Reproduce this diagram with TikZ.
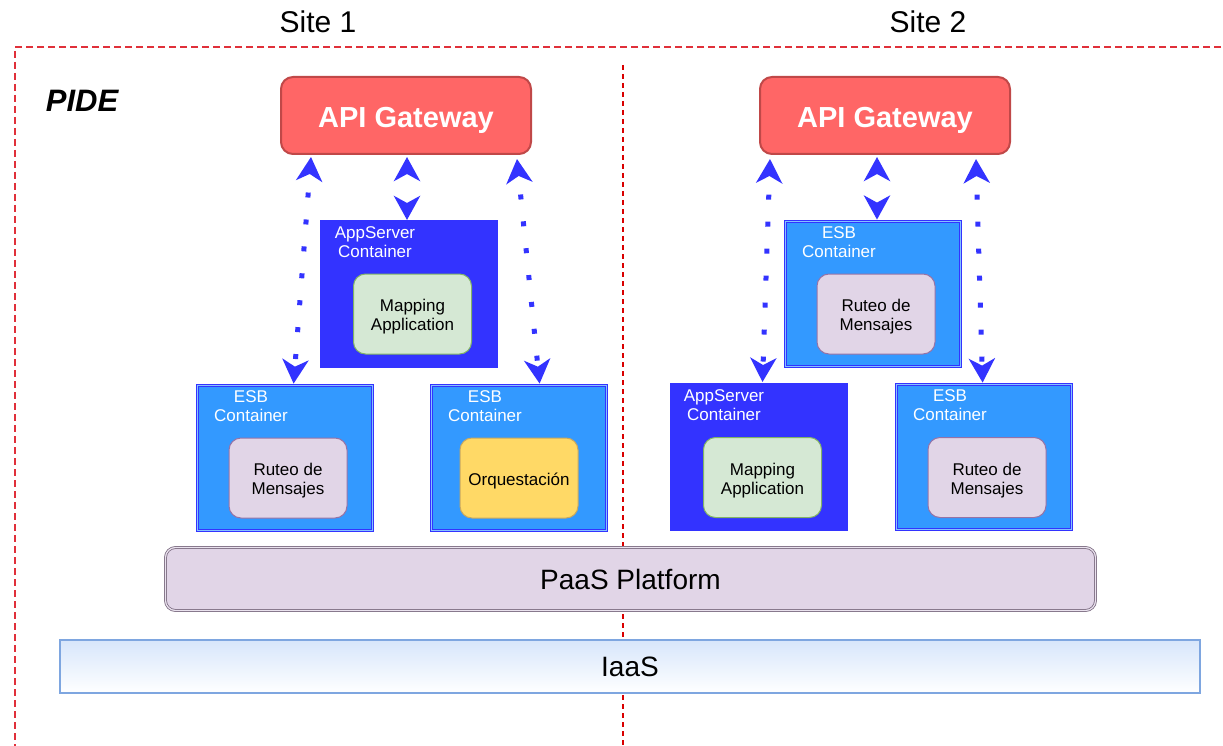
\documentclass[tikz,border=0pt]{standalone}
\usepackage{fontspec}
\setmainfont{Liberation Sans}
\usetikzlibrary{arrows.meta,calc}
\definecolor{gwfill}{HTML}{FF6666}
\definecolor{gwline}{HTML}{C04848}
\definecolor{appfill}{HTML}{3333FF}
\definecolor{esbfill}{HTML}{3399FF}
\definecolor{mapfill}{HTML}{D5E8D4}
\definecolor{mapline}{HTML}{82B366}
\definecolor{rutfill}{HTML}{E1D5E7}
\definecolor{rutline}{HTML}{9673A6}
\definecolor{orqfill}{HTML}{FFD966}
\definecolor{orqline}{HTML}{C8A860}
\definecolor{paasline}{HTML}{7A6A80}
\definecolor{iaasline}{HTML}{7EA6E0}
\definecolor{iaastop}{HTML}{D7E6FB}
\definecolor{redline}{HTML}{E0303A}
\newcommand{\lowr}{\rule{0pt}{18pt}}
\begin{document}
\begin{tikzpicture}[x=1pt,y=-1pt,
  every node/.style={inner sep=0pt, outer sep=0pt},
  gw/.style={draw=gwline, line width=2pt, fill=gwfill, rounded corners=12pt,
    minimum width=250pt, minimum height=77pt, text=white, text height=24pt, text depth=0pt,
    font=\bfseries\fontsize{29}{34}\selectfont},
  appbox/.style={fill=appfill, minimum width=178pt, minimum height=148pt},
  esbbox/.style={fill=esbfill, draw=appfill, line width=1pt, double=esbfill!60!white,
    double distance=1.2pt, minimum width=174.8pt, minimum height=144.8pt},
  inner/.style={rounded corners=12pt, line width=1pt, minimum width=118pt,
    minimum height=80pt, align=center, font=\fontsize{17}{19}\selectfont},
  mapbox/.style={inner, fill=mapfill, draw=mapline},
  rutbox/.style={inner, fill=rutfill, draw=rutline},
  orqbox/.style={inner, fill=orqfill, draw=orqline},
  clabel/.style={text=white, align=center, font=\fontsize{17}{19}\selectfont},
  sitelabel/.style={font=\fontsize{30}{34}\selectfont},
  conn/.style={draw=appfill, line width=5pt, dash pattern=on 5pt off 22pt, dash phase=7pt,
    {Stealth[length=24pt,width=26pt,inset=7pt]}-{Stealth[length=24pt,width=26pt,inset=7pt]}},
  shortconn/.style={conn, dash pattern=on 0pt off 200pt, dash phase=0pt},
  border/.style={draw=redline, line width=1.4pt, dash pattern=on 7pt off 4pt},
  midline/.style={draw=red!85!black, line width=1.3pt, dash pattern=on 5pt off 4pt}
]
\useasboundingbox (0,0) rectangle (1223,746);
\fill[white] (0,0) rectangle (1223,746);

% frame
\coordinate (tl) at (15,47);
\coordinate (tr) at (1221,47);
\coordinate (bl) at (15,746);
\coordinate (mt) at (623,65);
\coordinate (mb) at (623,746);
\draw[border] (tr) -- (tl) -- (bl);
\draw[midline] (mt) -- (mb);

\node[sitelabel] (site1) at (318,22) {Site 1};
\node[sitelabel] (site2) at (928,22) {Site 2};
\node[font=\bfseries\itshape\fontsize{31}{34}\selectfont] (pide) at (82,101) {PIDE};

% Site 1
\node[gw] (gw1) at (406,115.5) {API Gateway};
\node[appbox] (app1) at (409,294) {};
\node[clabel] (app1l) at (375,242) {AppServer\\Container};
\node[mapbox] (map1) at (412.5,314) {\lowr Mapping\\Application};

\node[esbbox] (esb1) at (285,458) {};
\node[clabel] (esb1l) at (251,406) {ESB\\Container};
\node[rutbox] (rut1) at (288,478) {\lowr Ruteo de\\Mensajes};

\node[esbbox] (esb2) at (519,458) {};
\node[clabel] (esb2l) at (485,406) {ESB\\Container};
\node[orqbox] (orq1) at (519,478) {\lowr Orquestación};

% Site 2
\node[gw] (gw2) at (885,115.5) {API Gateway};
\node[esbbox] (esb3) at (873,294) {};
\node[clabel] (esb3l) at (839,242) {ESB\\Container};
\node[rutbox] (rut2) at (876,314) {\lowr Ruteo de\\Mensajes};

\node[appbox] (app2) at (758.5,457) {};
\node[clabel] (app2l) at (724,405) {AppServer\\Container};
\node[mapbox] (map2) at (762.5,477.5) {\lowr Mapping\\Application};

\node[esbbox] (esb4) at (984,457) {};
\node[clabel] (esb4l) at (950,405) {ESB\\Container};
\node[rutbox] (rut3) at (987,477.5) {\lowr Ruteo de\\Mensajes};

% platforms
\node[fill=rutfill, draw=paasline, line width=0.8pt, double=rutfill!70!white, double distance=1.2pt,
  rounded corners=10pt, minimum width=930pt, minimum height=63pt,
  font=\fontsize{28}{32}\selectfont] (paas) at (630.5,579) {PaaS Platform};
\node[draw=iaasline, line width=1.5pt, top color=iaastop, bottom color=white,
  minimum width=1140pt, minimum height=53pt,
  font=\fontsize{28}{32}\selectfont] (iaas) at (630,666.5) {IaaS};

% connectors
\draw[conn] ($(gw1.south west)+(30,3)$) -- ($(esb1.north west)+(96,-2)$);
\draw[shortconn] ($(gw1.south)+(1,3)$) -- ($(app1.north)+(-2,0)$);
\draw[conn] ($(gw1.south east)+(-14,5)$) -- ($(esb2.north west)+(108,-2)$);
\draw[conn] ($(gw2.south west)+(10,5)$) -- ($(app2.north west)+(93,-1)$);
\draw[shortconn] ($(gw2.south)+(-8,3)$) -- ($(esb3.north)+(4,-2)$);
\draw[conn] ($(gw2.south east)+(-34,5)$) -- ($(esb4.north west)+(86,-2)$);
\end{tikzpicture}
\end{document}
